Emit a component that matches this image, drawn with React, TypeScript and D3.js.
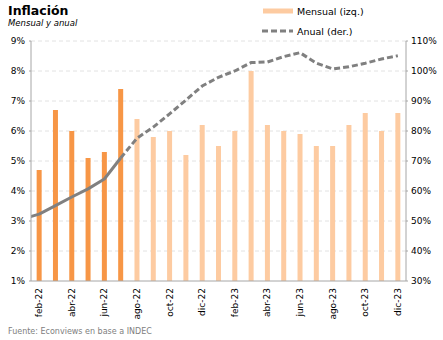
import React from "react";
import * as d3 from "d3";

const months = ["feb-22","mar-22","abr-22","may-22","jun-22","jul-22","ago-22","sep-22","oct-22","nov-22","dic-22","ene-23","feb-23","mar-23","abr-23","may-23","jun-23","jul-23","ago-23","sep-23","oct-23","nov-23","dic-23"];
const monthly = [4.7,6.7,6.0,5.1,5.3,7.4,6.4,5.8,6.0,5.2,6.2,5.5,6.0,8.0,6.2,6.0,5.9,5.5,5.5,6.2,6.6,6.0,6.6];
const annual = [52.3,55.1,58.0,60.7,64.0,71.0,77.6,81.3,85.7,90.3,95.0,97.9,100.0,102.8,103.0,104.8,106.1,102.6,100.7,101.4,102.6,104.0,105.1];
const annualPrior = 50.7; // ene-22
const actualCount = 6; // feb-22..jul-22 observed
const leftTicks = [1,2,3,4,5,6,7,8,9];
const rightTicks = [30,40,50,60,70,80,90,100,110];
const shownLabels = months.filter((_, i) => i % 2 === 0);

const W = 443, H = 340;
const L = 31, R = 406, T = 41, B = 281;
const font = "Tahoma, 'DejaVu Sans', Verdana, sans-serif";

export default function App() {
  const x = d3.scaleBand().domain(months).range([L, R]).paddingInner(0).paddingOuter(0);
  const cx = (m: string) => (x(m) as number) + x.bandwidth() / 2;
  const yL = d3.scaleLinear().domain([1, 9]).range([B, T]);
  const yR = d3.scaleLinear().domain([30, 110]).range([B, T]);
  const barW = 5;

  const pts: [number, number][] = annual.map((v, i) => [cx(months[i]), yR(v)]);
  const prior: [number, number] = [cx(months[0]) - x.step(), yR(annualPrior)];
  const line = d3.line<[number, number]>();
  const solidPts = [prior, ...pts.slice(0, actualCount)];
  const dashPts = pts.slice(actualCount - 1);

  return (
    <svg width={W} height={H} style={{ position: "absolute", left: 0, top: 0, background: "#fff" }} fontFamily={font}>
      <defs>
        <clipPath id="plot"><rect x={L} y={0} width={R - L} height={B} /></clipPath>
      </defs>
      <text x={8} y={15} fontSize={12.5} fontWeight="bold" fill="#000">Inflación</text>
      <text x={8} y={26} fontSize={8.5} fontStyle="italic" fill="#000">Mensual y anual</text>

      {/* legend */}
      <line x1={263} x2={293} y1={11} y2={11} stroke="#FDCBA1" strokeWidth={5} />
      <text x={297} y={14.5} fontSize={9.5} fill="#000">Mensual (izq.)</text>
      <line x1={262} x2={293} y1={31} y2={31} stroke="#808080" strokeWidth={3} strokeDasharray="6,3" />
      <text x={297} y={34.5} fontSize={9.5} fill="#000">Anual (der.)</text>

      {/* gridlines */}
      {leftTicks.slice(1).map(t => (
        <line key={t} x1={L} x2={R} y1={yL(t)} y2={yL(t)} stroke="#dadada" strokeWidth={0.8} strokeDasharray="4,3" />
      ))}

      {/* bars */}
      {months.map((m, i) => (
        <rect key={m} x={cx(m) - barW / 2} y={yL(monthly[i])} width={barW} height={B - yL(monthly[i])}
          fill={i < actualCount ? "#F79646" : "#FDCBA1"} />
      ))}

      {/* annual line */}
      <g clipPath="url(#plot)">
        <path d={line(solidPts) as string} fill="none" stroke="#808080" strokeWidth={3} strokeLinejoin="round" />
        <path d={line(dashPts) as string} fill="none" stroke="#808080" strokeWidth={3} strokeDasharray="6,3" />
      </g>

      {/* axes */}
      <line x1={L} x2={L} y1={T} y2={B} stroke="#a6a6a6" strokeWidth={1} />
      <line x1={R} x2={R} y1={T} y2={B} stroke="#a6a6a6" strokeWidth={1} />
      <line x1={L} x2={R} y1={B} y2={B} stroke="#a6a6a6" strokeWidth={1} />
      {leftTicks.map(t => (
        <g key={t}>
          <line x1={L - 2} x2={L} y1={yL(t)} y2={yL(t)} stroke="#a6a6a6" />
          <text x={L - 6} y={yL(t) + 3} fontSize={9} textAnchor="end" fill="#000">{t}%</text>
        </g>
      ))}
      {rightTicks.map(t => (
        <g key={t}>
          <line x1={R} x2={R + 2} y1={yR(t)} y2={yR(t)} stroke="#a6a6a6" />
          <text x={R + 5} y={yR(t) + 3} fontSize={9} textAnchor="start" fill="#000">{t}%</text>
        </g>
      ))}
      {shownLabels.map(m => (
        <text key={m} transform={`translate(${cx(m) + 3},${B + 7}) rotate(-90)`} fontSize={9} textAnchor="end" fill="#000">{m}</text>
      ))}

      <text x={8} y={334} fontSize={8} fill="#808080">Fuente: Econviews en base a INDEC</text>
    </svg>
  );
}
